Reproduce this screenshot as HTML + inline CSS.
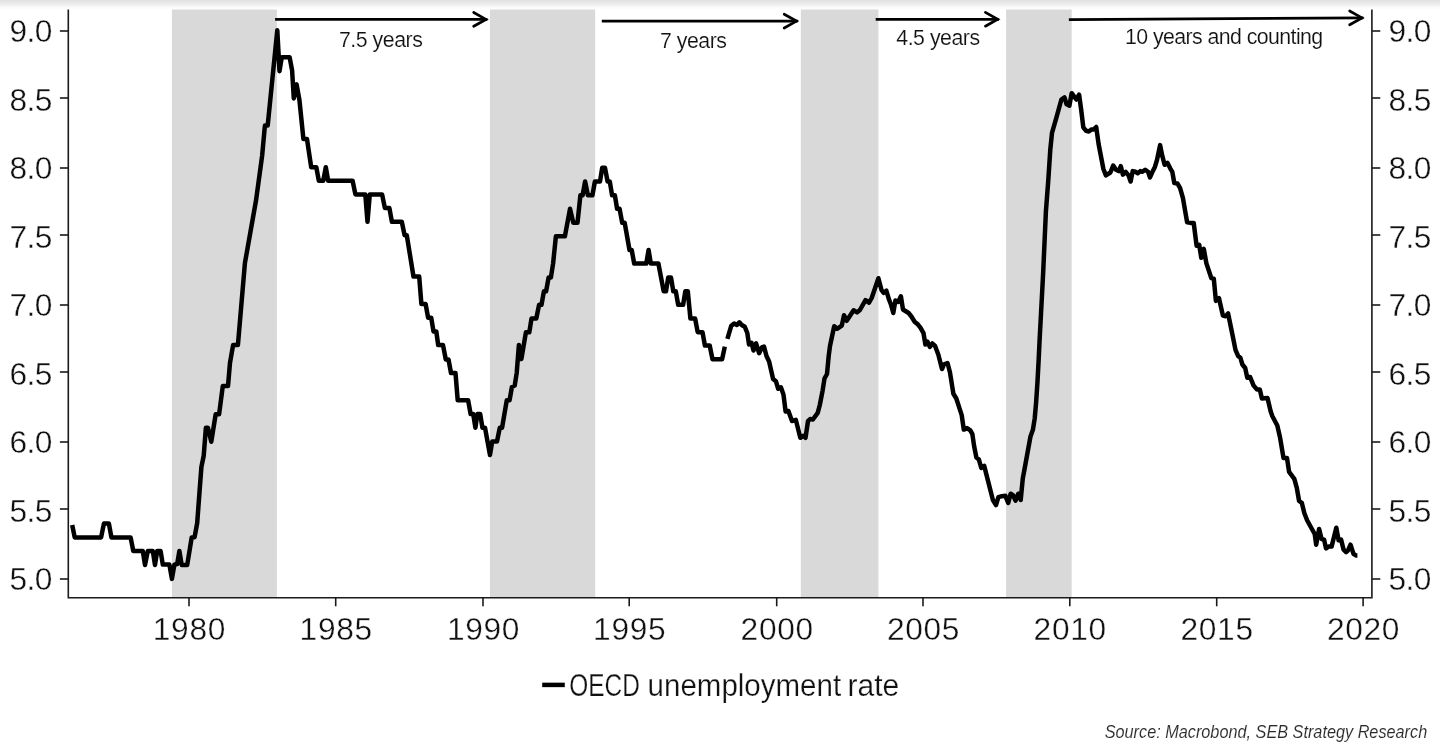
<!DOCTYPE html>
<html lang="en">
<head>
<meta charset="utf-8">
<title>OECD unemployment rate</title>
<style>
html,body{margin:0;padding:0;background:#fff;}
body{width:1440px;height:748px;overflow:hidden;}
svg{display:block;will-change:transform;}
text{font-family:"Liberation Sans",sans-serif;fill:#111111;stroke:#fff;stroke-linejoin:round;}
.ax{font-size:31.7px;stroke-width:0.35px;}
.an{font-size:21.3px;fill:#111111;stroke-width:0.15px;}
.lg{font-size:31px;stroke-width:0.25px;}
.src{font-size:18px;font-style:italic;fill:#2a2a2a;stroke-width:0.1px;}
</style>
</head>
<body>
<svg width="1440" height="748" viewBox="0 0 1440 748">
<defs><linearGradient id="tg" x1="0" y1="0" x2="0" y2="1"><stop offset="0" stop-color="#e0e0e0"/><stop offset="0.42" stop-color="#ececec"/><stop offset="0.77" stop-color="#fafafa"/><stop offset="1" stop-color="#ffffff"/></linearGradient></defs>
<rect x="0" y="0" width="1440" height="748" fill="#ffffff"/>
<rect x="0" y="0" width="1440" height="9.5" fill="url(#tg)"/>
<rect x="171.9" y="9.5" width="105.0" height="588.2" fill="#d9d9d9"/>
<rect x="490.0" y="9.5" width="105.2" height="588.2" fill="#d9d9d9"/>
<rect x="800.8" y="9.5" width="77.6" height="588.2" fill="#d9d9d9"/>
<rect x="1006.1" y="9.5" width="65.6" height="588.2" fill="#d9d9d9"/>
<g stroke="#1a1a1a" stroke-width="1.6" fill="none">
<path d="M68.3,9.5 V597.7 H1371.9 V9.5" stroke-linejoin="miter"/>
<path d="M59.9,31.0 H68.3"/>
<path d="M1371.9,31.0 H1380.3"/>
<path d="M59.9,98.0 H68.3"/>
<path d="M1371.9,98.0 H1380.3"/>
<path d="M59.9,168.0 H68.3"/>
<path d="M1371.9,168.0 H1380.3"/>
<path d="M59.9,235.0 H68.3"/>
<path d="M1371.9,235.0 H1380.3"/>
<path d="M59.9,305.0 H68.3"/>
<path d="M1371.9,305.0 H1380.3"/>
<path d="M59.9,372.0 H68.3"/>
<path d="M1371.9,372.0 H1380.3"/>
<path d="M59.9,442.0 H68.3"/>
<path d="M1371.9,442.0 H1380.3"/>
<path d="M59.9,509.0 H68.3"/>
<path d="M1371.9,509.0 H1380.3"/>
<path d="M59.9,579.0 H68.3"/>
<path d="M1371.9,579.0 H1380.3"/>
<path d="M189.0,597.7 V606.3"/>
<path d="M335.7,597.7 V606.3"/>
<path d="M483.0,597.7 V606.3"/>
<path d="M629.2,597.7 V606.3"/>
<path d="M776.7,597.7 V606.3"/>
<path d="M923.0,597.7 V606.3"/>
<path d="M1069.8,597.7 V606.3"/>
<path d="M1216.7,597.7 V606.3"/>
<path d="M1363.1,597.7 V606.3"/>
</g>
<text class="ax" x="9.5" y="42.4" textLength="42.8">9.0</text>
<text class="ax" x="1388.6" y="42.4" textLength="42.8">9.0</text>
<text class="ax" x="9.5" y="110.9" textLength="42.8">8.5</text>
<text class="ax" x="1388.6" y="110.9" textLength="42.8">8.5</text>
<text class="ax" x="9.5" y="179.4" textLength="42.8">8.0</text>
<text class="ax" x="1388.6" y="179.4" textLength="42.8">8.0</text>
<text class="ax" x="9.5" y="247.9" textLength="42.8">7.5</text>
<text class="ax" x="1388.6" y="247.9" textLength="42.8">7.5</text>
<text class="ax" x="9.5" y="316.4" textLength="42.8">7.0</text>
<text class="ax" x="1388.6" y="316.4" textLength="42.8">7.0</text>
<text class="ax" x="9.5" y="384.9" textLength="42.8">6.5</text>
<text class="ax" x="1388.6" y="384.9" textLength="42.8">6.5</text>
<text class="ax" x="9.5" y="453.4" textLength="42.8">6.0</text>
<text class="ax" x="1388.6" y="453.4" textLength="42.8">6.0</text>
<text class="ax" x="9.5" y="521.9" textLength="42.8">5.5</text>
<text class="ax" x="1388.6" y="521.9" textLength="42.8">5.5</text>
<text class="ax" x="9.5" y="590.4" textLength="42.8">5.0</text>
<text class="ax" x="1388.6" y="590.4" textLength="42.8">5.0</text>
<text class="ax" x="152.8" y="640.3" textLength="72.5">1980</text>
<text class="ax" x="299.6" y="640.3" textLength="72.5">1985</text>
<text class="ax" x="446.9" y="640.3" textLength="72.5">1990</text>
<text class="ax" x="593.1" y="640.3" textLength="72.5">1995</text>
<text class="ax" x="740.6" y="640.3" textLength="72.5">2000</text>
<text class="ax" x="886.9" y="640.3" textLength="72.5">2005</text>
<text class="ax" x="1033.6" y="640.3" textLength="72.5">2010</text>
<text class="ax" x="1180.5" y="640.3" textLength="72.5">2015</text>
<text class="ax" x="1326.9" y="640.3" textLength="72.5">2020</text>
<g fill="none" stroke="#000" stroke-width="4.5" stroke-linejoin="round" stroke-linecap="butt">
<polyline points="72.2,525.0 74.7,537.4 101.1,537.4 103.9,523.6 108.9,523.6 111.4,537.4 130.6,537.4 133.3,551.0 142.8,551.0 145.0,565.0 147.8,551.0 152.8,551.0 155.0,565.0 157.2,551.0 160.6,551.0 162.8,564.6 169.4,564.6 171.9,578.9 174.4,564.6 177.2,564.0 179.4,551.0 181.7,565.0 187.2,565.0 191.7,537.4 194.6,537.2 197.2,523.0 199.5,492.0 201.4,467.0 203.7,455.8 205.9,427.7 207.9,427.7 211.3,441.7 215.7,414.2 219.1,414.2 222.8,386.0 228.0,386.0 230.0,362.8 233.1,345.1 237.9,345.1 244.9,263.2 256.1,200.0 262.1,156.0 264.9,125.6 267.7,125.6 277.3,30.3 279.5,71.2 281.8,57.2 289.6,57.2 292.1,70.3 293.8,98.4 296.6,84.4 299.4,99.8 303.4,139.1 307.0,139.1 311.2,167.2 316.3,167.2 318.8,180.7 323.3,180.7 325.8,167.2 328.1,180.7 352.6,180.7 355.4,194.4 365.3,194.4 367.5,221.8 369.8,194.4 382.1,194.4 384.9,208.1 389.4,208.1 391.9,221.8 401.8,221.8 404.6,235.3 406.8,235.3 413.5,276.6 419.2,276.6 421.4,304.0 425.6,304.0 428.1,317.7 431.2,317.7 433.5,331.4 436.3,331.4 438.2,345.1 443.0,345.1 445.8,359.5 448.5,359.5 451.0,373.0 455.5,373.0 457.7,400.2 468.1,400.2 470.6,414.0 473.2,414.0 475.4,427.7 477.4,414.0 480.2,414.0 482.4,427.7 485.0,427.7 490.0,455.0 492.2,441.5 497.0,441.5 499.8,427.7 502.1,427.7 506.8,400.2 509.6,400.2 511.9,387.0 514.7,385.6 516.7,373.0 518.9,344.9 521.4,359.0 525.9,332.3 529.3,332.3 531.5,318.5 536.3,318.5 539.1,304.8 541.5,304.8 543.9,291.3 546.1,291.3 548.6,277.5 550.9,277.5 553.1,263.5 555.9,236.3 564.9,236.3 570.0,208.8 573.3,222.8 577.5,222.8 580.4,195.3 582.6,195.3 585.1,181.5 587.9,195.3 592.4,195.3 594.9,181.5 600.0,181.5 602.2,167.8 605.0,167.8 607.6,181.5 609.8,181.5 612.1,195.3 614.9,195.3 617.1,208.8 619.6,208.8 622.2,222.8 624.7,222.8 629.5,250.0 631.7,250.0 634.2,263.5 646.3,263.5 648.6,250.0 650.8,263.5 658.4,263.5 663.7,291.3 666.0,291.3 668.2,277.5 671.0,277.5 673.3,291.3 675.8,291.3 678.2,304.8 683.1,304.8 685.3,291.3 687.8,291.3 690.4,318.5 695.1,318.5 697.7,332.2 702.5,332.2 704.9,345.5 709.7,345.5 712.5,359.2 722.1,359.2 724.8,346.6"/>
<polyline points="727.4,338.9 731.3,325.7 734.1,323.6 736.9,325.0 739.4,322.3 741.7,325.0 744.8,326.8 747.3,333.0 749.0,344.5 751.5,342.8 753.5,350.5 756.1,343.3 759.1,353.2 761.9,347.4 764.0,346.6 766.5,356.0 769.1,361.5 773.1,379.0 775.9,381.2 778.2,388.8 780.9,387.3 783.5,394.8 785.6,411.4 788.4,411.0 792.0,421.0 795.8,419.8 800.3,437.8 803.1,435.8 805.5,437.8 808.0,421.2 810.1,419.1 812.9,419.5 817.7,412.9 819.8,405.0 822.6,390.6 824.5,378.5 827.0,374.0 828.7,356.0 830.0,346.0 834.2,326.3 837.0,328.8 841.8,325.6 844.0,315.2 846.7,320.8 853.6,310.3 857.1,312.4 859.9,310.0 865.5,300.2 869.0,302.7 871.7,298.0 878.4,278.2 881.5,290.0 883.5,292.8 886.3,290.7 889.1,299.8 891.2,305.3 893.3,313.0 895.4,300.5 898.2,301.9 900.9,296.3 903.0,309.5 908.6,313.0 911.4,316.5 914.8,322.0 917.6,324.1 920.4,327.6 923.5,333.2 925.4,344.6 927.5,341.5 929.8,347.0 932.3,343.5 935.1,346.0 938.3,354.5 942.0,369.0 944.0,364.3 947.5,363.0 949.9,372.0 953.4,393.8 956.3,398.5 961.7,415.1 963.8,429.6 967.0,428.1 970.3,430.4 972.4,434.2 974.1,446.0 976.4,457.6 978.9,459.6 981.3,468.0 984.2,465.9 992.9,500.0 996.0,505.1 998.4,497.2 1001.9,496.2 1005.4,495.8 1008.2,502.8 1010.7,493.7 1013.0,495.1 1015.5,500.7 1018.2,493.7 1020.7,500.0 1022.8,478.4 1024.1,471.5 1030.5,436.4 1032.9,429.8 1034.7,418.5 1036.1,402.6 1037.5,381.7 1038.6,360.9 1039.6,340.0 1043.1,274.0 1045.9,211.7 1048.3,180.0 1050.3,149.5 1052.0,132.9 1056.4,117.6 1061.4,99.5 1064.5,97.4 1066.6,104.3 1069.4,105.7 1071.7,93.2 1076.3,99.5 1079.1,94.6 1081.2,109.9 1083.3,127.3 1086.1,130.8 1088.8,131.5 1091.6,129.4 1093.7,129.4 1096.2,127.0 1098.6,144.0 1103.4,169.0 1105.9,175.3 1110.4,172.5 1113.2,165.5 1116.0,169.7 1118.7,171.1 1120.8,166.2 1122.9,174.6 1125.7,171.8 1128.5,175.3 1130.6,181.5 1132.7,171.1 1135.4,171.8 1137.8,173.2 1140.3,171.1 1142.4,171.8 1145.2,169.7 1148.0,171.8 1150.0,177.4 1152.1,172.5 1154.9,166.9 1157.0,160.0 1160.1,145.1 1162.1,155.1 1164.6,164.8 1167.4,162.8 1170.2,168.3 1172.3,171.8 1174.3,183.0 1177.4,183.4 1180.1,188.1 1182.9,197.8 1187.1,222.2 1190.5,222.9 1193.7,222.9 1196.6,245.8 1199.2,244.8 1201.3,257.8 1203.8,248.8 1206.4,263.4 1211.3,278.0 1213.8,278.7 1215.9,300.9 1219.0,298.2 1222.9,315.5 1225.6,316.2 1228.1,313.5 1232.3,334.0 1235.5,349.9 1238.2,356.2 1240.3,357.6 1242.4,364.5 1245.2,368.0 1247.3,377.7 1250.1,377.0 1253.5,385.4 1257.0,389.5 1259.8,389.5 1261.9,398.6 1267.5,397.9 1270.7,411.5 1272.4,416.3 1277.3,425.5 1280.1,437.8 1283.5,458.0 1287.0,458.0 1289.1,471.9 1294.3,478.8 1296.8,487.9 1299.1,501.0 1301.8,502.8 1304.3,513.0 1307.1,520.2 1311.5,528.3 1314.7,534.0 1316.2,544.7 1319.1,529.0 1321.6,539.0 1324.1,539.6 1326.0,548.4 1328.5,546.6 1331.6,546.6 1336.3,527.7 1338.6,540.3 1341.1,539.6 1343.6,549.7 1346.1,552.2 1348.0,550.3 1350.5,544.7 1353.6,554.1 1356.2,555.4 1357.4,555.4"/>
</g>
<g fill="none" stroke="#000" stroke-width="2.7" stroke-linejoin="miter" stroke-linecap="butt">
<path d="M275.1,19.4 L487.3,19.4"/>
<path d="M473.7,12.5 L486.0,19.4 L473.7,26.3" stroke-linecap="round"/>
<path d="M601.8,21.1 L797.8,21.1"/>
<path d="M784.2,14.2 L796.5,21.1 L784.2,28.0" stroke-linecap="round"/>
<path d="M875.7,19.3 L999.0,19.3"/>
<path d="M985.4,12.4 L997.7,19.3 L985.4,26.2" stroke-linecap="round"/>
<path d="M1068.9,19.7 L1363.3,17.9"/>
<path d="M1349.7,11.0 L1362.0,17.9 L1349.7,24.8" stroke-linecap="round"/>
</g>
<text class="an" x="339.0" y="46.9" textLength="83.8">7.5 years</text>
<text class="an" x="660.0" y="48.4" textLength="66.9">7 years</text>
<text class="an" x="896.3" y="45.2" textLength="83.8">4.5 years</text>
<text class="an" x="1125.0" y="44.2" textLength="198.2">10 years and counting</text>
<path d="M542.2,684.9 H564.8" stroke="#000" stroke-width="4.5" fill="none"/>
<text class="lg" y="695.9"><tspan x="569.3" textLength="70.5" lengthAdjust="spacingAndGlyphs">OECD</tspan> <tspan x="647.6" textLength="193.5" lengthAdjust="spacingAndGlyphs">unemployment</tspan> <tspan x="847.5" textLength="51.8" lengthAdjust="spacingAndGlyphs">rate</tspan></text>
<text class="src" x="1104.7" y="737.6" textLength="322.5" lengthAdjust="spacingAndGlyphs">Source: Macrobond, SEB Strategy Research</text>
</svg>
</body>
</html>
